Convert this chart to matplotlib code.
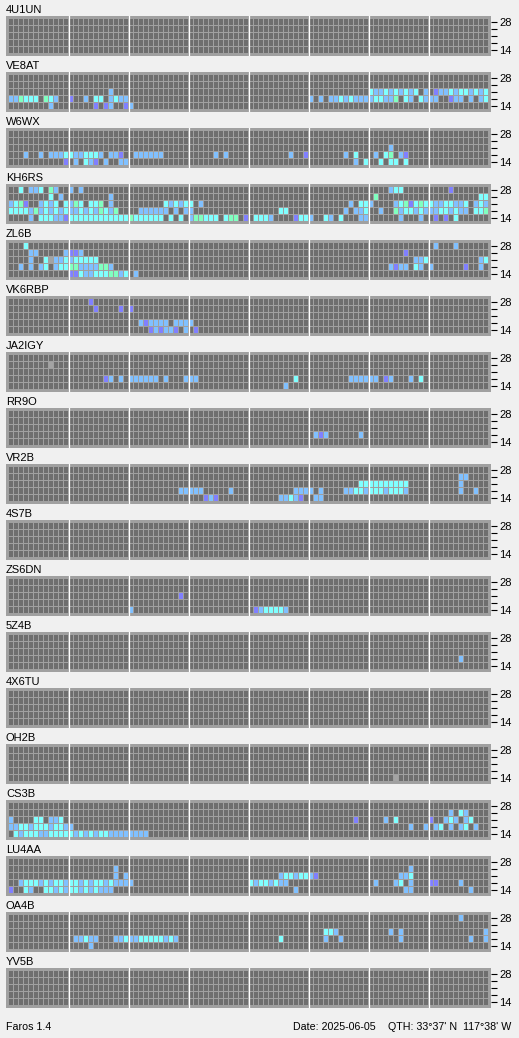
import matplotlib

matplotlib.use('Agg')
import matplotlib.pyplot as plt
import numpy as np

W, H = 519, 1038
N_SLOTS = 96          # 15 min slots over 24 h
BANDS = ['28', '', '', '', '14']   # top row = 28 MHz, bottom = 14 MHz

STATIONS = ['4U1UN', 'VE8AT', 'W6WX', 'KH6RS', 'ZL6B', 'VK6RBP', 'JA2IGY',
            'RR9O', 'VR2B', '4S7B', 'ZS6DN', '5Z4B', '4X6TU', 'OH2B', 'CS3B',
            'LU4AA', 'OA4B', 'YV5B']

# each band row = runs "start:codes", codes: . none, x weak, p, b, c, g (stronger)
S_4U1UN = ['', '', '', '', '']
S_VE8AT = ['', '',
           '20:b 72:cbbcbcbcbc.b.pbbcbccbcbc',
           '0:bbgccc.gcb..p..b.cc.bcbb 60:b.b.bbcbcbbbbccbbg.cb.cbbb..pbb.b.bc',
           '8:b 17:p.pb..pb']
S_W6WX = ['', '',
          '76:b',
          '3:b..b.bbbccbbcccb.bbp..bbbbbb 41:b.b 56:b..p 67:b.c 73:b.cg.bp',
          '11:p.b.cbp.b..bb 69:b.c 74:c.cc.c']
S_KH6RS = ['2:c.bbc.gb..b.b 76:bcc 88:p',
           '8:c.b 20:b 73:g 94:cc',
           '0:bcgp..bcbc.cbgc.ccg.b 31:cbcbcc.b 68:b.ccb....bcgpcgccbbccbbc.bcb',
           '0:ccccbgbcbcbcbbcbcbgcbg 26:bbbbbb.b.bb 54:cc 67:b.bbc..b..gbccbcbbbccbcbb.ccg',
           '4:b.cccbbpccccccccccccgcccccc.c.c.bggccc.cgg.p.cccb....pccb..cb.c...bb 78:b...b..p.p.c']
S_ZL6B = ['3:c 85:b 89:b',
          '4:bb.....bppb 79:p',
          '4:b..cxbbcbccccc 81:bbc 94:bc',
          '2:b.b.bc.bccggbbbbggb 76:bpbb.cb.b......p..b',
          '12:ppcbbcccggbc.b']
S_VK6RBP = ['16:p', '17:p....p.p', '', '26:bpbbbb.bbbb', '28:pbpbbp.b.p']
S_JA2IGY = ['', '8:x', '', '19:pb.b.bbbbbb.b...bbb 57:c 68:bbbbbb.pb...b.c', '55:b']
S_RR9O = ['', '', '', '61:bpb 70:b', '']
S_VR2B = ['', '90:bb', '70:cccccccccc 90:b',
          '34:bbbbb 44:b 57:bbbb.b 67:bbccbcccbcccb 90:b..b',
          '39:pbp 54:bbcbp..bb']
S_4S7B = ['', '', '', '', '']
S_ZS6DN = ['', '', '34:p', '', '24:b 49:pbccccb']
S_5Z4B = ['', '', '', '90:b', '']
S_4X6TU = ['', '', '', '', '']
S_OH2B = ['', '', '', '', '77:x']
S_CS3B = ['', '88:b.cb',
          '0:b....cc.bbc 69:p 75:b.c 84:p..bcb.bc',
          '0:bbccbcccbccbb 80:b..b.bc.b.bc.b',
          '1:cbcccbbcccccbcbcbccbbbbbbbb']
S_LU4AA = ['', '21:b 80:b',
           '21:b.b 54:bccbccbp 78:bbc',
           '2:bcccbcbccbccbcbccbcbbbb 48:cbccbcbb 73:b...bc.b...pp....b',
           '0:p..cb..ccbcbccbcbcbbb 57:b 79:bb 92:b']
S_OA4B = ['90:b', '', '63:ccb 76:b.b 95:b',
          '13:bbcbb...bbcbbcccccbcb 54:c 63:b..b 78:b 92:b..b',
          '16:b']
S_YV5B = ['', '', '', '', '']

DATA = [S_4U1UN, S_VE8AT, S_W6WX, S_KH6RS, S_ZL6B, S_VK6RBP, S_JA2IGY,
        S_RR9O, S_VR2B, S_4S7B, S_ZS6DN, S_5Z4B, S_4X6TU, S_OH2B, S_CS3B,
        S_LU4AA, S_OA4B, S_YV5B]

BG = '#f0f0f0'
PANEL = '#a0a0a0'
CELL = {'.': '#6e6e6e', 'x': '#a3a3a3', 'p': '#8080ff', 'b': '#80c0ff',
        'c': '#80ffff', 'g': '#80ffc0'}
FONT = 'Liberation Sans'


def parse(rows):
    grid = [['.'] * N_SLOTS for _ in rows]
    for r, spec in enumerate(rows):
        for run in spec.split():
            start, codes = run.split(':')
            for j, ch in enumerate(codes):
                grid[r][int(start) + j] = ch
    return grid


plt.rcParams['font.family'] = [FONT, 'DejaVu Sans']
fig = plt.figure(figsize=(W / 100, H / 100), dpi=100, facecolor=BG)

PITCH, PANEL_H, TOP0 = 56, 40, 16
for k, (name, rows) in enumerate(zip(STATIONS, DATA)):
    top = TOP0 + PITCH * k
    ax = fig.add_axes([6 / W, 1 - (top + PANEL_H) / H, 485 / W, PANEL_H / H])
    ax.set_facecolor(PANEL)
    grid = parse(rows)
    x = np.arange(N_SLOTS)
    for r, row in enumerate(grid):
        ax.bar(x, 6 / 7, width=0.8, bottom=r + 0.5 / 7, align='center',
               color=[CELL[c] for c in row], linewidth=0)
    for b in range(12, N_SLOTS, 12):
        ax.axvline(b - 0.5, color='white', lw=0.9)
    ax.set_xlim(-1, N_SLOTS)
    ax.set_ylim(5 + 2.5 / 7, -2.5 / 7)
    ax.set_xticks([])
    ax.yaxis.tick_right()
    ax.set_yticks(np.arange(5) + 0.5)
    ax.set_yticklabels(BANDS)
    ax.tick_params(axis='y', length=4.5, width=0.8, pad=1.5, labelsize=8)
    for s in ax.spines.values():
        s.set_visible(False)
    fig.text(6 / W, 1 - (top - 3) / H, name, fontsize=8, va='baseline')

fig.text(6 / W, 1 - 1030 / H, 'Faros 1.4', fontsize=7.7, va='baseline')
fig.text(293 / W, 1 - 1030 / H, 'Date: 2025-06-05', fontsize=7.7, va='baseline')
fig.text(388 / W, 1 - 1030 / H, "QTH: 33°37' N  117°38' W", fontsize=7.7,
         va='baseline')

fig.savefig('out.png', dpi=100, facecolor=BG)
